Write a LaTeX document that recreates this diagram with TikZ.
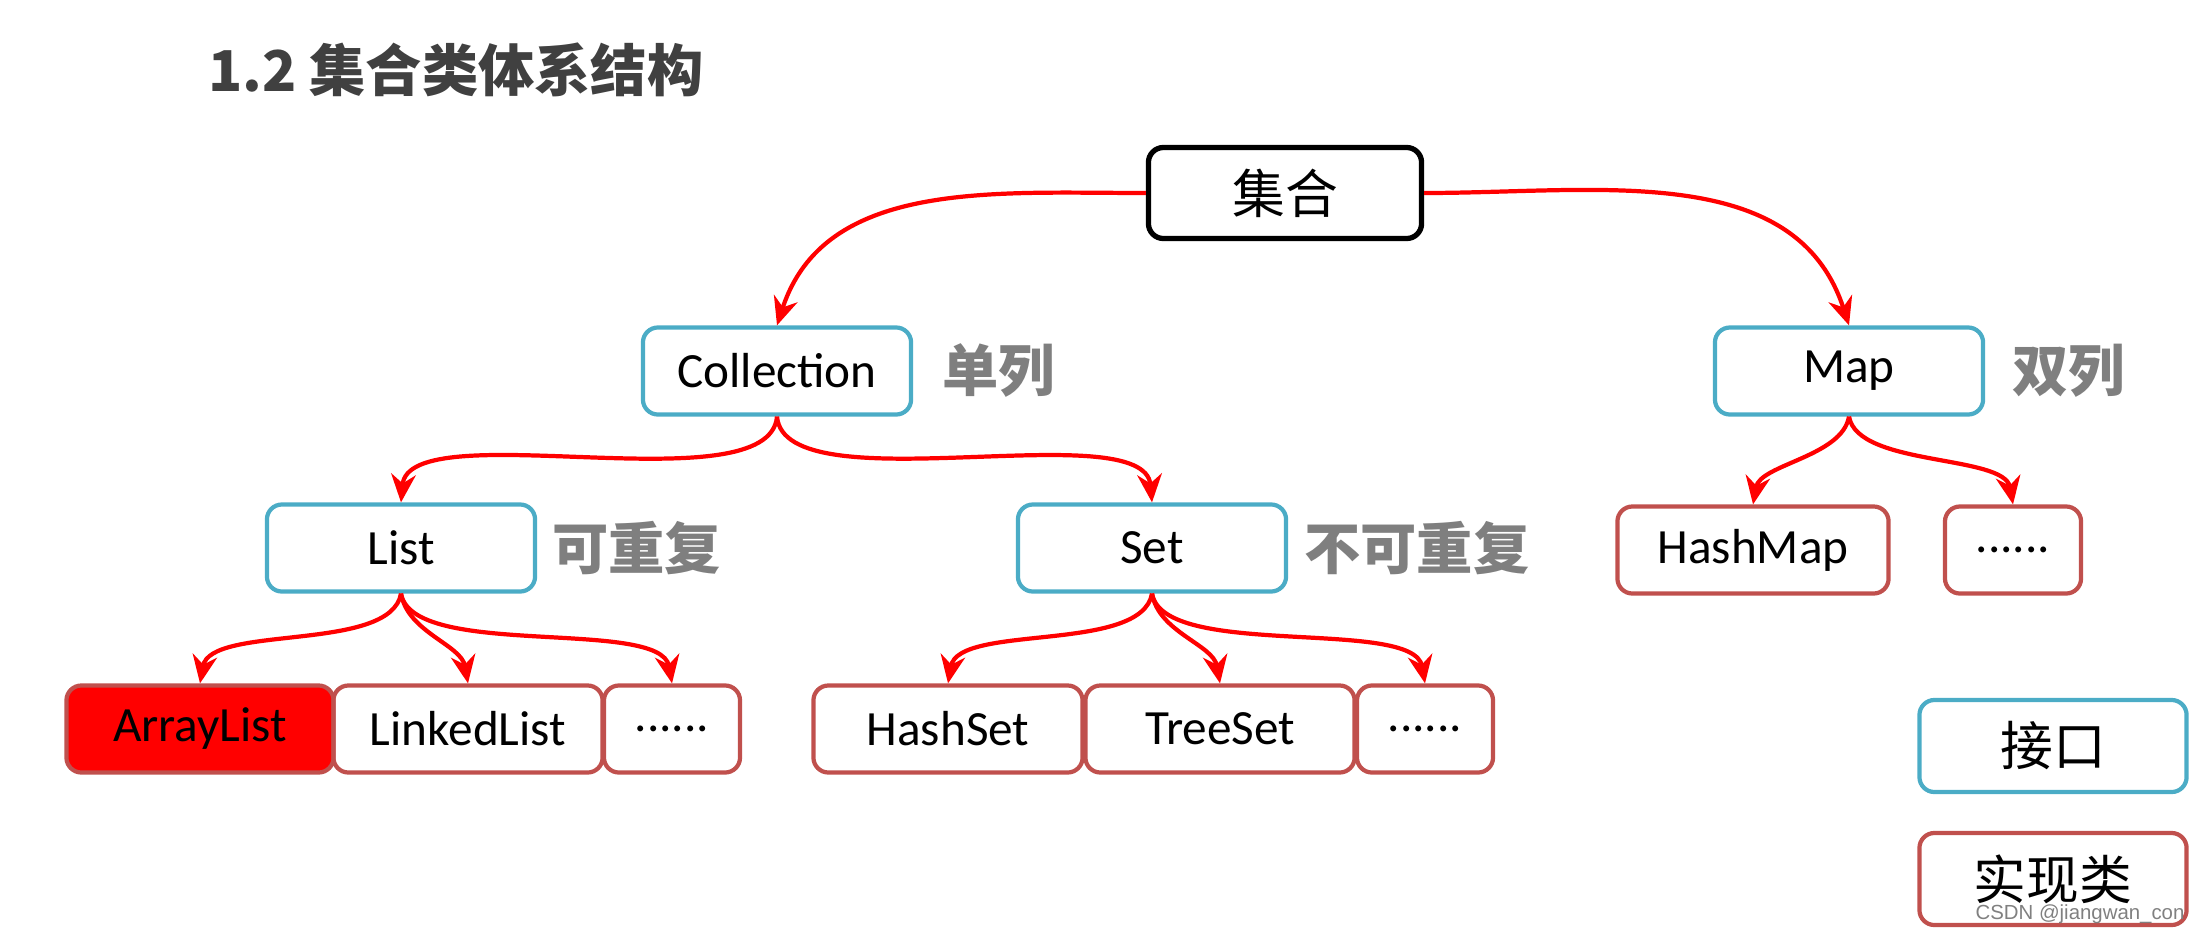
\documentclass[tikz,border=0pt]{standalone}
\usepackage{fontspec}
\setmainfont{Carlito}
\newfontfamily\cjk{Noto Sans CJK SC}
\newfontfamily\wmfont{Liberation Sans}
\usetikzlibrary{arrows.meta}

\definecolor{ifaceblue}{HTML}{4BACC6}
\definecolor{implred}{HTML}{C0504D}
\definecolor{labelgray}{HTML}{7F7F7F}
\definecolor{titlegray}{HTML}{404040}

\begin{document}
\begin{tikzpicture}[x=0.01cm,y=0.01cm,
  box/.style={draw,rounded corners=0.15cm,minimum height=0.87cm,inner sep=0pt,
    line width=1.2pt,font=\fontsize{14}{16}\selectfont},
  iface/.style={box,draw=ifaceblue,minimum width=2.68cm},
  impl/.style={box,draw=implred,minimum width=2.69cm},
  dotsbox/.style={impl,minimum width=1.36cm},
  note/.style={anchor=west,text=labelgray,font=\cjk\bfseries\fontsize{16}{18}\selectfont},
  link/.style={red,line width=1.2pt,-{Stealth[length=8pt,width=7pt]}}
]
  \useasboundingbox (0,0) rectangle (2197,-930);
  % Title
  \node[anchor=west,text=titlegray,font=\cjk\bfseries\fontsize{16}{18}\selectfont]
    (title) at (196,-70) {1.2 集合类体系结构};
  % Root
  \node[box,draw=black,line width=1.5pt,minimum width=2.73cm,minimum height=0.91cm,
    font=\cjk\fontsize{15}{17}\selectfont] (jihe) at (1285,-193) {集合};
  % Interfaces
  \node[iface] (coll) at (777,-371) {Collection};
  \node[iface] (map) at (1849,-371) {Map};
  \node[iface] (list) at (401,-548) {List};
  \node[iface] (set) at (1152,-548) {Set};
  % Side notes
  \node[note] (collnote) at (930,-371) {单列};
  \node[note] (mapnote) at (2000,-371) {双列};
  \node[note] (listnote) at (540,-548) {可重复};
  \node[note] (setnote) at (1292,-548) {不可重复};
  % Implementations
  \node[impl,fill=red,minimum width=2.67cm] (arraylist) at (200,-729) {ArrayList};
  \node[impl] (linkedlist) at (468,-729) {LinkedList};
  \node[dotsbox] (listdots) at (672,-729) {......};
  \node[impl] (hashset) at (948,-729) {HashSet};
  \node[impl] (treeset) at (1220,-729) {TreeSet};
  \node[dotsbox] (setdots) at (1425,-729) {......};
  \node[impl,minimum width=2.71cm] (hashmap) at (1753,-550) {HashMap};
  \node[dotsbox] (mapdots) at (2013,-550) {......};
  % Legend
  \node[iface,minimum width=2.67cm,minimum height=0.92cm,
    font=\cjk\fontsize{15}{17}\selectfont] (legiface) at (2053,-746) {接口};
  \node[impl,minimum width=2.67cm,minimum height=0.92cm,
    font=\cjk\fontsize{15}{17}\selectfont] (legimpl) at (2053,-879) {实现类};
  \node[text=gray,font=\wmfont\fontsize{5.8}{6}\selectfont] (mark) at (2080,-914)
    {CSDN @jiangwan\_con};
  % Links
  \draw[link] (jihe.west) to[out=180,in=72] (coll.north);
  \draw[link] (jihe.east) to[out=0,in=108] (map.north);
  \draw[link] (coll.south) to[out=-95,in=85,looseness=0.6] (list.north);
  \draw[link] (coll.south) to[out=-85,in=95,looseness=0.6] (set.north);
  \draw[link] (list.south) to[out=-100,in=80,looseness=0.7] (arraylist.north);
  \draw[link] (list.south) to[out=-80,in=100,looseness=0.9] (linkedlist.north);
  \draw[link] (list.south) to[out=-80,in=100,looseness=0.6] (listdots.north);
  \draw[link] (set.south) to[out=-100,in=80,looseness=0.7] (hashset.north);
  \draw[link] (set.south) to[out=-80,in=100,looseness=0.9] (treeset.north);
  \draw[link] (set.south) to[out=-80,in=100,looseness=0.6] (setdots.north);
  \draw[link] (map.south) to[out=-100,in=80,looseness=0.8] (hashmap.north);
  \draw[link] (map.south) to[out=-80,in=100,looseness=0.7] (mapdots.north);
\end{tikzpicture}
\end{document}
